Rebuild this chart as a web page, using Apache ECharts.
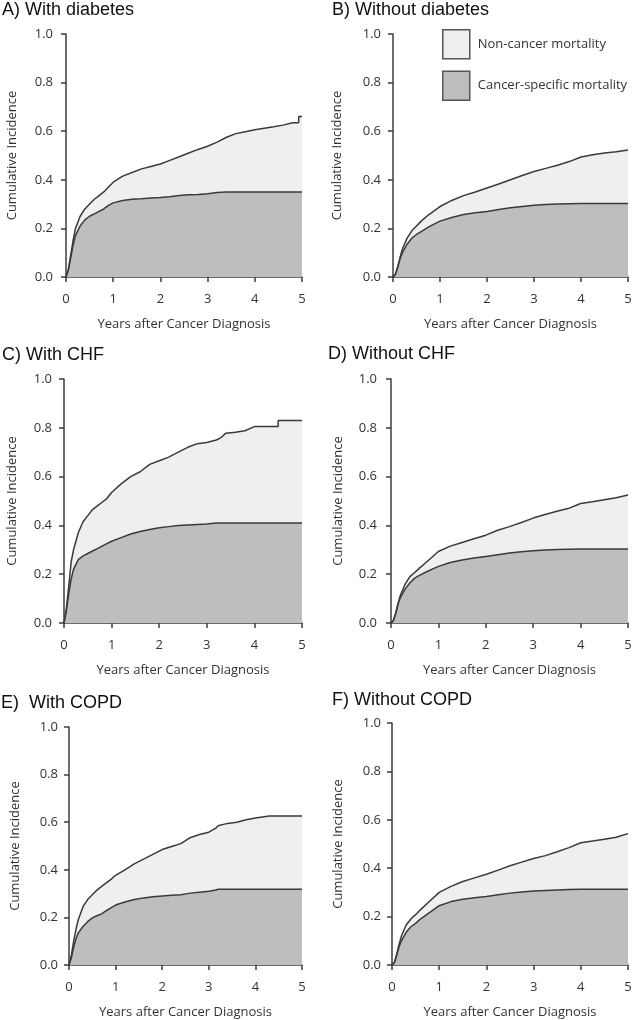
<!DOCTYPE html>
<html>
<head>
<meta charset="utf-8">
<script src="https://cdn.jsdelivr.net/npm/echarts@6/dist/echarts.min.js"></script>
<style>
html,body{margin:0;padding:0;background:#fff;}
#chart{width:635px;height:1020px;}
</style>
</head>
<body>
<div id="chart"></div>
<script>
// ---------- DATA ----------
const panelTitles = ['A) With diabetes','B) Without diabetes','C) With CHF','D) Without CHF','E)  With COPD','F) Without COPD'];
const seriesNames = ['Non-cancer mortality','Cancer-specific mortality'];
const xTickLabels = ['0','1','2','3','4','5'];
const yTickLabels = ['0.0','0.2','0.4','0.6','0.8','1.0'];
const xAxisTitle = 'Years after Cancer Diagnosis';
const yAxisTitle = 'Cumulative Incidence';

// A) With diabetes
const tA      = [0,0.05,0.1,0.15,0.2,0.3,0.4,0.5,0.6,0.7,0.8,0.9,1.0,1.2,1.4,1.6,1.8,2.0,2.2,2.4,2.6,2.8,3.0,3.2,3.4,3.6,3.8,4.0,4.2,4.4,4.6,4.8,4.93,4.93,5.0];
const totalA  = [0,0.03,0.09,0.15,0.2,0.25,0.28,0.30,0.32,0.335,0.35,0.37,0.39,0.415,0.43,0.445,0.455,0.465,0.48,0.495,0.51,0.525,0.538,0.555,0.575,0.59,0.598,0.606,0.612,0.618,0.625,0.635,0.635,0.66,0.66];
const cancerA = [0,0.03,0.08,0.13,0.17,0.21,0.235,0.25,0.26,0.27,0.28,0.295,0.305,0.315,0.32,0.322,0.325,0.327,0.33,0.335,0.338,0.34,0.343,0.348,0.35,0.35,0.35,0.35,0.35,0.35,0.35,0.35,0.35,0.35,0.35];
// C) With CHF
const tC      = [0,0.05,0.1,0.15,0.2,0.3,0.4,0.5,0.6,0.7,0.8,0.9,1.0,1.2,1.4,1.6,1.8,2.0,2.2,2.4,2.6,2.8,3.0,3.2,3.3,3.4,3.6,3.8,4.0,4.5,4.5,5.0];
const totalC  = [0,0.06,0.15,0.25,0.3,0.37,0.415,0.44,0.465,0.48,0.495,0.51,0.535,0.57,0.6,0.62,0.65,0.665,0.68,0.70,0.72,0.735,0.74,0.75,0.76,0.778,0.782,0.788,0.805,0.805,0.83,0.83];
const cancerC = [0,0.05,0.12,0.18,0.22,0.26,0.275,0.285,0.295,0.305,0.315,0.325,0.335,0.35,0.365,0.375,0.383,0.39,0.395,0.4,0.402,0.404,0.406,0.41,0.41,0.41,0.41,0.41,0.41,0.41,0.41,0.41];
// E) With COPD
const tE      = [0,0.05,0.1,0.15,0.2,0.3,0.4,0.5,0.6,0.7,0.8,0.9,1.0,1.2,1.4,1.6,1.8,2.0,2.2,2.4,2.6,2.8,3.0,3.15,3.2,3.4,3.6,3.8,4.0,4.3,5.0];
const totalE  = [0,0.04,0.1,0.15,0.19,0.245,0.275,0.295,0.315,0.33,0.345,0.36,0.377,0.40,0.425,0.445,0.465,0.485,0.498,0.51,0.535,0.548,0.558,0.575,0.585,0.595,0.60,0.61,0.618,0.626,0.626];
const cancerE = [0,0.03,0.075,0.11,0.135,0.162,0.182,0.198,0.207,0.215,0.228,0.24,0.252,0.265,0.275,0.282,0.287,0.29,0.293,0.295,0.302,0.306,0.31,0.315,0.318,0.318,0.318,0.318,0.318,0.318,0.318];

// B, D, F share time points
const tBDF    = [0,0.05,0.1,0.15,0.2,0.3,0.4,0.5,0.6,0.75,1,1.25,1.5,1.75,2,2.25,2.5,2.75,3,3.25,3.5,3.75,4,4.25,4.5,4.75,5];
const totalB  = [0,0.01,0.04,0.08,0.115,0.16,0.19,0.21,0.23,0.255,0.29,0.315,0.335,0.35,0.366,0.383,0.40,0.418,0.434,0.447,0.46,0.475,0.494,0.503,0.51,0.515,0.523];
const cancerB = [0,0.01,0.04,0.075,0.1,0.135,0.16,0.175,0.187,0.205,0.23,0.245,0.257,0.264,0.27,0.278,0.285,0.29,0.295,0.298,0.3,0.301,0.302,0.302,0.302,0.302,0.302];
const totalD  = [0,0.01,0.04,0.08,0.115,0.16,0.19,0.207,0.225,0.25,0.293,0.315,0.33,0.345,0.36,0.38,0.395,0.412,0.43,0.445,0.458,0.47,0.49,0.497,0.505,0.513,0.525];
const cancerD = [0,0.01,0.04,0.08,0.105,0.14,0.165,0.184,0.195,0.21,0.232,0.248,0.258,0.266,0.273,0.28,0.287,0.292,0.296,0.299,0.301,0.302,0.303,0.303,0.303,0.303,0.303];
const totalF  = [0,0.01,0.045,0.085,0.12,0.165,0.19,0.208,0.228,0.255,0.30,0.325,0.345,0.36,0.375,0.392,0.41,0.425,0.44,0.452,0.468,0.485,0.505,0.512,0.52,0.528,0.543];
const cancerF = [0,0.01,0.04,0.075,0.1,0.135,0.158,0.172,0.19,0.21,0.245,0.262,0.272,0.278,0.283,0.29,0.297,0.302,0.306,0.308,0.31,0.312,0.313,0.313,0.313,0.313,0.313];

// ---------- LAYOUT ----------
const panels = [
  {t:tA,   tot:totalA, can:cancerA, g:{left:66, top:34,  width:236, height:243}, yOff:3, title:[2,10],   yName:44},
  {t:tBDF, tot:totalB, can:cancerB, g:{left:393,top:34,  width:235, height:243}, yOff:2, title:[332,10], yName:47},
  {t:tC,   tot:totalC, can:cancerC, g:{left:64, top:379, width:238, height:244}, yOff:2, title:[2,355],  yName:43},
  {t:tBDF, tot:totalD, can:cancerD, g:{left:391,top:379, width:237, height:244}, yOff:4, title:[328,354],yName:42},
  {t:tE,   tot:totalE, can:cancerE, g:{left:69, top:727, width:233, height:240}, yOff:1, title:[1,703],  yName:46},
  {t:tBDF, tot:totalF, can:cancerF, g:{left:392,top:723, width:236, height:243}, yOff:1, title:[332,700],yName:46}
];

const FONT = '"Open Sans", "DejaVu Sans", sans-serif';
const AX = '#3c3c3c';
const LIGHT = '#efefef';
const DARK = '#bebebe';
const LINE = '#3a3a3a';
const TXT = '#333';

const grid = [], xAxis = [], yAxis = [], series = [], graphic = [];
panels.forEach((p, i) => {
  grid.push(Object.assign({containLabel:false}, p.g));
  xAxis.push({
    type:'value', gridIndex:i, min:0, max:5, interval:1, offset:2,
    name:xAxisTitle, nameLocation:'middle', nameGap:39,
    nameTextStyle:{fontFamily:FONT, fontSize:13, color:TXT},
    axisLine:{show:true, lineStyle:{color:AX, width:1.5}},
    axisTick:{show:true, length:5, lineStyle:{color:AX, width:1.5}},
    axisLabel:{margin:14, fontFamily:FONT, fontSize:13, color:TXT, formatter:v => xTickLabels[Math.round(v)]},
    splitLine:{show:false}
  });
  yAxis.push({
    type:'value', gridIndex:i, min:0, max:1, interval:0.2, offset:p.yOff,
    name:yAxisTitle, nameLocation:'middle', nameGap:p.yName,
    nameTextStyle:{fontFamily:FONT, fontSize:13, color:TXT},
    axisLine:{show:true, lineStyle:{color:AX, width:1.5}},
    axisTick:{show:true, length:5, lineStyle:{color:AX, width:1.5}},
    axisLabel:{margin:10, fontFamily:FONT, fontSize:13, color:TXT, formatter:v => yTickLabels[Math.round(v*5)]},
    splitLine:{show:false}
  });
  const mk = (name, vals, fill) => ({
    name, type:'line', xAxisIndex:i, yAxisIndex:i,
    data:p.t.map((t, k) => [t, vals[k]]),
    symbol:'none', silent:true,
    lineStyle:{color:LINE, width:1.5},
    itemStyle:{color:LINE},
    areaStyle:{color:fill, opacity:1}
  });
  series.push(mk(seriesNames[0], p.tot, LIGHT));
  series.push(mk(seriesNames[1], p.can, DARK));
  graphic.push({
    type:'text', x:p.title[0], y:p.title[1],
    style:{text:panelTitles[i], font:'18px "Liberation Sans", Arial, sans-serif', fill:'#111', verticalAlign:'middle', textAlign:'left'}
  });
});

const chart = echarts.init(document.getElementById('chart'), null, {renderer:'canvas'});
chart.setOption({
  animation:false,
  backgroundColor:'#fff',
  grid, xAxis, yAxis, series, graphic,
  legend:{
    show:true, orient:'vertical', left:442, top:29, padding:0,
    itemWidth:27, itemHeight:29, itemGap:11, selectedMode:false,
    icon:'rect',
    textStyle:{fontFamily:FONT, fontSize:13, color:TXT, padding:[0,0,0,3]},
    data:[
      {name:seriesNames[0], icon:'rect', itemStyle:{color:LIGHT, borderColor:'#555', borderWidth:1.5}},
      {name:seriesNames[1], icon:'rect', itemStyle:{color:DARK, borderColor:'#555', borderWidth:1.5}}
    ]
  }
});
</script>
</body>
</html>
